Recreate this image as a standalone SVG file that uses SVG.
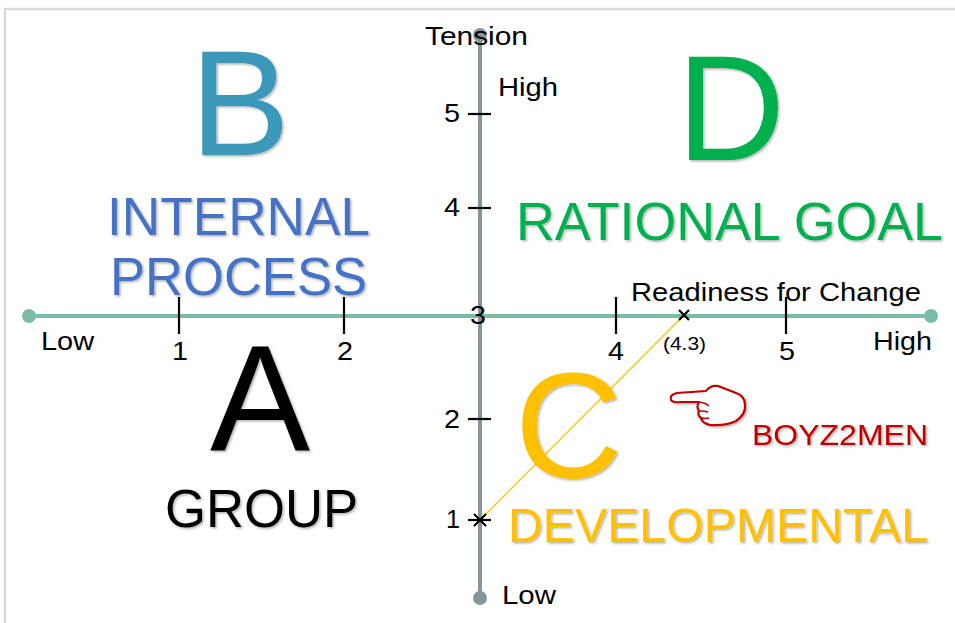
<svg xmlns="http://www.w3.org/2000/svg" width="955" height="623" viewBox="0 0 955 623">
<defs>
<filter id="sh" x="-10%" y="-10%" width="120%" height="130%">
<feDropShadow dx="1.5" dy="1.5" stdDeviation="1" flood-color="#000" flood-opacity="0.3"/>
</filter>
</defs>
<style>
text{font-family:"Liberation Sans",Arial,sans-serif;fill:#000}
.lab{font-size:26px}
.num{font-size:26px}
.big{font-size:150px;text-anchor:middle}
.name{font-size:53px}
.tick{stroke:#000;stroke-width:2.2}
</style>
<rect width="955" height="623" fill="#fff"/>
<path d="M5,623 V9 H955" fill="none" stroke="#d9d9d9" stroke-width="2.5"/>

<g id="connectors">
<line x1="29" y1="316" x2="931" y2="316" stroke="#79bea4" stroke-width="4"/>
<circle cx="29" cy="316" r="7" fill="#79bea4"/>
<circle cx="931" cy="316" r="7" fill="#79bea4"/>
<line x1="480" y1="34" x2="480" y2="598" stroke="#84959b" stroke-width="4"/>
<circle cx="480" cy="35" r="7" fill="#84959b"/>
<circle cx="480" cy="598" r="7" fill="#84959b"/>
<line class="tick" x1="179" y1="297" x2="179" y2="334"/>
<line class="tick" x1="344" y1="297" x2="344" y2="334"/>
<line class="tick" x1="616" y1="297" x2="616" y2="334"/>
<line class="tick" x1="786" y1="297" x2="786" y2="334"/>
<line class="tick" x1="468" y1="114" x2="491" y2="114"/>
<line class="tick" x1="468" y1="208" x2="491" y2="208"/>
<line class="tick" x1="468" y1="419" x2="491" y2="419"/>
<line class="tick" x1="468" y1="520" x2="491" y2="520"/>
<line x1="480" y1="520" x2="684" y2="315" stroke="#ffc000" stroke-width="1.3"/>
<path class="tick" d="M679,310 L689,320 M689,310 L679,320"/>
<path class="tick" d="M474,514 L486,526 M486,514 L474,526"/>
</g>

<g id="axis-labels">
<text class="lab" x="425" y="45" textLength="103" lengthAdjust="spacingAndGlyphs">Tension</text>
<text class="lab" x="498" y="96" textLength="60" lengthAdjust="spacingAndGlyphs">High</text>
<text class="lab" x="502" y="604" textLength="54" lengthAdjust="spacingAndGlyphs">Low</text>
<text class="lab" x="41" y="350" textLength="53" lengthAdjust="spacingAndGlyphs">Low</text>
<text class="lab" x="873" y="350" textLength="59" lengthAdjust="spacingAndGlyphs">High</text>
<text class="lab" x="631" y="301" textLength="290" lengthAdjust="spacingAndGlyphs">Readiness for Change</text>
<text x="663" y="350" textLength="43" lengthAdjust="spacingAndGlyphs" style="font-size:18px">(4.3)</text>
<text class="num" x="172" y="360" textLength="16" lengthAdjust="spacingAndGlyphs">1</text>
<text class="num" x="337" y="360" textLength="16" lengthAdjust="spacingAndGlyphs">2</text>
<text class="num" x="470" y="324" textLength="16" lengthAdjust="spacingAndGlyphs">3</text>
<text class="num" x="608" y="360" textLength="16" lengthAdjust="spacingAndGlyphs">4</text>
<text class="num" x="779" y="360" textLength="16" lengthAdjust="spacingAndGlyphs">5</text>
<text class="num" x="444" y="122" textLength="16" lengthAdjust="spacingAndGlyphs">5</text>
<text class="num" x="444" y="216" textLength="16" lengthAdjust="spacingAndGlyphs">4</text>
<text class="num" x="444" y="428" textLength="16" lengthAdjust="spacingAndGlyphs">2</text>
<text class="num" x="446" y="528" textLength="14" lengthAdjust="spacingAndGlyphs">1</text>
</g>

<g id="quadrant-B" filter="url(#sh)">
<text class="big" x="240" y="155" style="fill:#3a98b9">B</text>
<text class="name" x="107" y="235" textLength="263" lengthAdjust="spacingAndGlyphs" style="fill:#4472c4">INTERNAL</text>
<text class="name" x="110" y="295" textLength="257" lengthAdjust="spacingAndGlyphs" style="fill:#4472c4">PROCESS</text>
</g>
<g id="quadrant-D" filter="url(#sh)">
<text class="big" x="731" y="160" style="fill:#00b050">D</text>
<text class="name" x="516" y="240" textLength="427" lengthAdjust="spacingAndGlyphs" style="fill:#00b050">RATIONAL GOAL</text>
</g>
<g id="quadrant-A" filter="url(#sh)">
<text class="big" x="260" y="450">A</text>
<text class="name" x="165" y="527" textLength="193" lengthAdjust="spacingAndGlyphs">GROUP</text>
</g>
<g id="quadrant-C" filter="url(#sh)">
<text class="big" x="569" y="478" style="fill:#ffc000">C</text>
<text x="508" y="542" textLength="420" lengthAdjust="spacingAndGlyphs" style="font-size:48px;fill:#ffc000">DEVELOPMENTAL</text>
</g>

<g id="boyz2men" filter="url(#sh)">
<path d="M706,391 L677,393 Q669,395 671,400 Q673,403 680,402 L699,402 Q696,407 699,411 Q697,415 701,418 Q702,423 710,425 Q726,426 736,421 Q746,414 745,405 Q745,396 736,393 L718,386 Q710,385 706,391 Z" fill="#fff" stroke="#c00000" stroke-width="2.2" stroke-linejoin="round"/>
<path d="M699,402 Q706,403 709,406 M699,411 Q705,411 708,412 M701,418 Q706,419 709,418" fill="none" stroke="#c00000" stroke-width="1.6"/>
<text x="752" y="445" textLength="176" lengthAdjust="spacingAndGlyphs" style="font-size:29px;fill:#c00000">BOYZ2MEN</text>
</g>
</svg>
